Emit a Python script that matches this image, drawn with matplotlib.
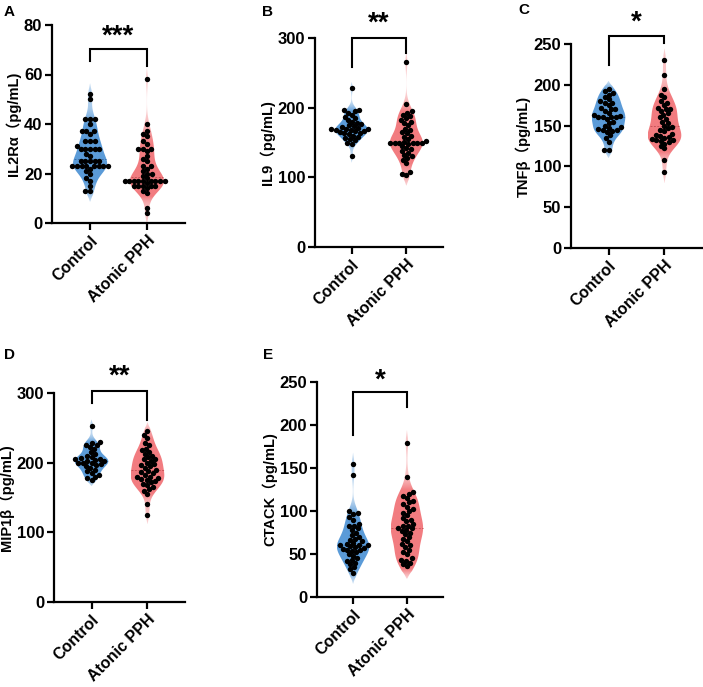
import numpy as np
import matplotlib
matplotlib.use("Agg")
import matplotlib.pyplot as plt
from matplotlib.patches import Polygon

plt.rcParams['font.family'] = ['Liberation Sans', 'Noto Sans CJK SC', 'DejaVu Sans']
plt.rcParams['font.weight'] = 'bold'

groups = ["Control", "Atonic PPH"]

# values (pg/mL)
il2ra_ctrl = [52, 50, 42, 42, 42, 40, 37, 37, 37, 36, 33, 33, 33, 31, 30, 30, 30, 30, 30, 28,
              27, 25, 25, 25, 25, 25, 23, 23, 23, 23, 23, 23, 23, 23, 22, 21, 20, 18, 17, 15, 13, 13]
il2ra_pph = [58, 40, 37, 36, 35, 33, 32, 30, 30, 30, 29, 27, 26, 25, 23, 23, 22, 21, 20, 20, 19,
             18, 17, 17, 17, 17, 17, 17, 17, 17, 17, 16, 15, 15, 15, 15, 15, 14, 13, 12, 6, 4]
il9_ctrl = [228, 197, 196, 195, 193, 190, 187, 185, 183, 180, 178, 176, 175, 173, 172, 171, 170,
            170, 169, 168, 168, 167, 166, 165, 164, 163, 162, 160, 158, 156, 155, 153,
            150, 148, 130]
il9_pph = [265, 205, 195, 193, 190, 188, 185, 182, 180, 178, 175, 170, 168, 165, 163, 160, 158,
           155, 152, 151, 150, 150, 150, 150, 150, 149, 148, 145, 142, 140, 138, 135, 132,
           130, 128, 125, 120, 107, 105, 103]
tnfb_ctrl = [195, 192, 190, 188, 185, 182, 180, 178, 178, 175, 172, 170, 170, 168, 165, 163, 162,
             160, 160, 160, 160, 158, 155, 153, 150, 148, 147, 146, 145, 144, 143, 142, 138, 135,
             130, 120, 120]
tnfb_pph = [231, 212, 195, 188, 185, 180, 178, 175, 172, 170, 170, 168, 165, 163, 160, 158, 155,
            153, 150, 148, 147, 145, 143, 140, 138, 137, 136, 135, 133, 132, 132, 131, 130, 128,
            125, 122, 108, 93]
mip1b_ctrl = [253, 230, 228, 225, 225, 222, 220, 215, 212, 210, 208, 206, 205, 205, 204,
              203, 202, 200, 200, 200, 198, 196, 195, 193, 190, 188, 185, 182, 180,
              178, 175]
mip1b_pph = [245, 240, 235, 228, 225, 220, 218, 215, 213, 210, 208, 205, 205, 203, 200, 198, 196,
             195, 193, 190, 188, 186, 185, 183, 180, 180, 178, 176, 175, 173, 172, 170, 168, 165,
             162, 160, 155, 140, 125]
ctack_ctrl = [155, 142, 100, 98, 97, 93, 90, 85, 83, 82, 80, 78, 75, 72, 70, 68, 66, 65, 63, 62,
              61, 60, 60, 59, 58, 57, 56, 55, 55, 54, 52, 50, 48, 45, 43, 42, 40, 38, 35, 32, 28]
ctack_pph = [179, 140, 122, 120, 118, 115, 112, 110, 108, 105, 102, 100, 98, 95, 92, 90, 88, 85,
             83, 82, 80, 80, 78, 77, 75, 73, 70, 68, 65, 62, 60, 58, 55, 52, 50, 45, 43, 42, 40,
             38, 36]

labels = ["A", "B", "C", "D", "E"]
ylabels = ["IL2Rα（pg/mL)", "IL9（pg/mL)", "TNFβ（pg/mL)", "MIP1β（pg/mL)", "CTACK（pg/mL)"]
data = [(il2ra_ctrl, il2ra_pph), (il9_ctrl, il9_pph), (tnfb_ctrl, tnfb_pph),
        (mip1b_ctrl, mip1b_pph), (ctack_ctrl, ctack_pph)]
ymax = [80, 300, 250, 300, 250]
ystep = [20, 100, 50, 100, 50]
stars = ["***", "**", "*", "**", "*"]
# bracket: top, left leg end, right leg end, star y
brackets = [(70.5, 65.5, 63.5, 75.5), (300, 258, 278, 320), (260, 224, 251, 276),
            (303, 286, 261, 323), (238, 188, 221, 252)]

W, H = 703, 687
# axes boxes in pixels: left, right, top, bottom
boxes = [(52, 185, 25, 223), (315, 443, 38, 247), (571, 702, 44, 248),
         (54, 185, 393, 602), (317, 443, 382, 597)]
panel_pos = [(4, 12), (262, 12), (518, 10), (4, 355), (263, 355)]

colors = ["#5b9bd8", "#f27c80"]
dark = ["#3a6ea8", "#c85458"]
xlim = (-0.67, 1.67)


def swarm(vals, pxx, pxy, d=4.6):
    order = np.argsort(vals)
    ys = np.array(vals, float)[order] * pxy
    placed = []
    xs = np.zeros(len(ys))
    for i, y in enumerate(ys):
        near = [(px, py) for px, py in placed if abs(py - y) < d]
        cands = [0.0]
        for px, py in near:
            dx = np.sqrt(d * d - (py - y) ** 2)
            cands += [px + dx, px - dx]
        cands = sorted(cands, key=lambda c: (abs(c), c))
        for c in cands:
            if all((c - px) ** 2 + (y - py) ** 2 >= d * d - 1e-6 for px, py in near):
                xs[i] = c
                break
        placed.append((xs[i], y))
    out = np.zeros(len(ys))
    out[order] = xs / pxx
    return out


def violin(ax, x, vals, col, dcol, maxw=0.3):
    v = np.array(vals, float)
    bw = 0.75 * 1.06 * v.std() * len(v) ** (-0.2)
    lo, hi = v.min() - 1.3 * bw, v.max() + 1.3 * bw
    g = np.linspace(lo, hi, 300)
    dens = np.exp(-0.5 * ((g[:, None] - v[None, :]) / bw) ** 2).sum(1)
    taper = np.clip((g - lo) / (0.8 * bw), 0, 1) * np.clip((hi - g) / (0.8 * bw), 0, 1)
    dens = dens * np.sqrt(taper)
    hw = dens / dens.max() * maxw
    verts = np.concatenate([np.c_[x - hw, g], np.c_[x + hw, g][::-1]])
    poly = Polygon(verts, closed=True, facecolor="none", edgecolor="none")
    ax.add_patch(poly)
    rgb = matplotlib.colors.to_rgb(col)
    alpha = 0.3 + 0.7 * np.clip(hw / (0.4 * maxw), 0, 1)
    img = np.zeros((len(g), 1, 4))
    img[:, 0, :3] = rgb
    img[:, 0, 3] = alpha
    im = ax.imshow(img, extent=[x - maxw, x + maxw, lo, hi], origin="lower",
                   aspect="auto", interpolation="bilinear", zorder=1)
    im.set_clip_path(poly)
    med = np.median(v)
    w = np.interp(med, g, hw)
    ax.plot([x - w, x + w], [med, med], ls=(0, (2, 1.5)), lw=0.7, color=dcol, zorder=2)


fig = plt.figure(figsize=(W / 100, H / 100), dpi=100)

for k in range(5):
    l, r, t, b = boxes[k]
    ax = fig.add_axes([l / W, 1 - b / H, (r - l) / W, (b - t) / H])
    ax.set_xlim(*xlim)
    ax.set_ylim(0, ymax[k])
    pxx = (r - l) / (xlim[1] - xlim[0])
    pxy = (b - t) / ymax[k]
    for j in range(2):
        vals = data[k][j]
        violin(ax, j, vals, colors[j], dark[j])
        xo = swarm(vals, pxx, pxy)
        ax.scatter(j + xo, vals, s=15, color="black", linewidths=0, zorder=3, clip_on=False)
    ax.set_xlim(*xlim)
    ax.set_ylim(0, ymax[k])
    top, ll, rl, sy = brackets[k]
    ax.plot([0, 0, 1, 1], [ll, top, top, rl], color="black", lw=1.5, clip_on=False,
            solid_joinstyle="miter")
    ax.text(0.5, sy, stars[k], ha="center", va="center", fontsize=20, fontweight="bold",
            clip_on=False)
    ax.set_xticks([0, 1])
    ax.set_xticklabels(groups, rotation=45, ha="right", rotation_mode="anchor",
                       fontsize=11.5, fontweight="bold")
    ax.set_yticks(np.arange(0, ymax[k] + 1, ystep[k]))
    for lab in ax.get_yticklabels():
        lab.set_fontsize(12)
        lab.set_fontweight("bold")
    ax.set_ylabel(ylabels[k], fontsize=10.5, fontweight="bold", labelpad=2)
    for s in ["top", "right"]:
        ax.spines[s].set_visible(False)
    for s in ["left", "bottom"]:
        ax.spines[s].set_linewidth(1.6)
    ax.tick_params(width=1.6, length=5, pad=2)
    fig.text(panel_pos[k][0] / W, 1 - panel_pos[k][1] / H, labels[k], fontsize=11,
             fontweight="bold", ha="left", va="center")

fig.savefig("out.png", dpi=100)
